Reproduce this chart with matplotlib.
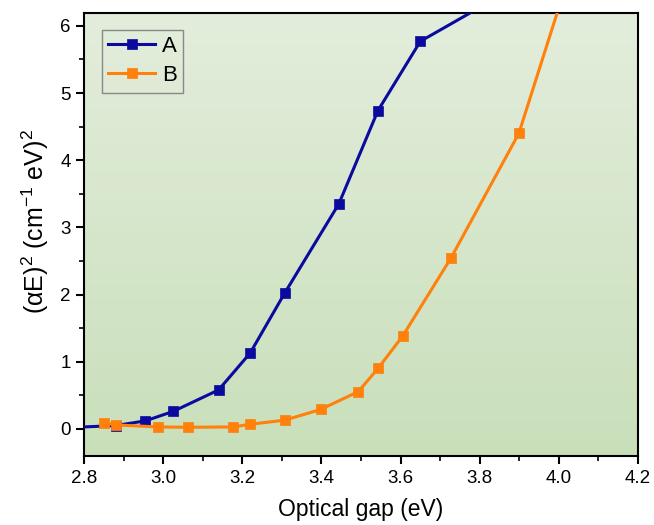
import numpy as np
import matplotlib as mpl
import matplotlib.pyplot as plt
from matplotlib.ticker import MultipleLocator

mpl.rcParams.update(
    {
        "font.family": ["Liberation Sans", "DejaVu Sans"],
        "font.size": 13,
        "mathtext.fontset": "custom",
        "mathtext.rm": "Liberation Sans",
        "mathtext.it": "Liberation Sans",
    }
)

# series A
energy_a = [2.76, 2.88, 2.955, 3.025, 3.14, 3.22, 3.307, 3.444, 3.543, 3.65, 3.90]
value_a = [0.02, 0.05, 0.12, 0.26, 0.58, 1.13, 2.02, 3.35, 4.74, 5.77, 6.61]

# series B
energy_b = [2.85, 2.88, 2.987, 3.063, 3.177, 3.22, 3.307, 3.398, 3.493,
            3.543, 3.605, 3.727, 3.899, 4.05]
value_b = [0.09, 0.06, 0.03, 0.025, 0.03, 0.07, 0.13, 0.29, 0.555,
           0.90, 1.38, 2.54, 4.40, 7.20]

labels = ["A", "B"]
colors = ["#0a0a9e", "#ff800a"]

fig = plt.figure(figsize=(6.54, 5.25), dpi=100)
ax = fig.add_axes([0.1284, 0.1305, 0.8471, 0.8445])

# green gradient background
grad = np.linspace(0, 1, 256).reshape(-1, 1)
cmap = mpl.colors.LinearSegmentedColormap.from_list("bg", ["#c9dfba", "#e3eddc"])
ax.imshow(grad, cmap=cmap, aspect="auto", origin="lower",
          extent=[0, 1, 0, 1], transform=ax.transAxes, zorder=0)

for x, y, lab, c in zip([energy_a, energy_b], [value_a, value_b], labels, colors):
    ax.plot(x, y, color=c, lw=2.2, marker="s", ms=6.8, label=lab, zorder=3,
            markeredgewidth=0.5)

ax.set_xlim(2.8, 4.2)
ax.set_ylim(-0.41, 6.19)
ax.xaxis.set_major_locator(MultipleLocator(0.2))
ax.xaxis.set_minor_locator(MultipleLocator(0.1))
ax.yaxis.set_major_locator(MultipleLocator(1))
ax.yaxis.set_minor_locator(MultipleLocator(0.5))
ax.xaxis.set_major_formatter(mpl.ticker.FormatStrFormatter("%.1f"))

ax.tick_params(which="major", direction="out", length=6, width=1.5, labelsize=13.5)
ax.tick_params(which="minor", direction="out", length=3.5, width=1.2)
for s in ax.spines.values():
    s.set_linewidth(1.5)

ax.set_xlabel("Optical gap (eV)", fontsize=16.5, labelpad=8)
ax.set_ylabel("(αE)$^2$ (cm$^{-1}$ eV)$^2$", fontsize=18, labelpad=7)
ax.yaxis.label.set_y(0.53)

leg = ax.legend(loc="upper left", bbox_to_anchor=(0.024, 0.973), fontsize=16,
                fancybox=False, framealpha=1, facecolor="none",
                edgecolor="#888888", handlelength=2.1, borderpad=0.3,
                labelspacing=0.35, handletextpad=0.3, borderaxespad=0.2)
leg.get_frame().set_linewidth(1.0)

fig.savefig("out.png", dpi=100)
